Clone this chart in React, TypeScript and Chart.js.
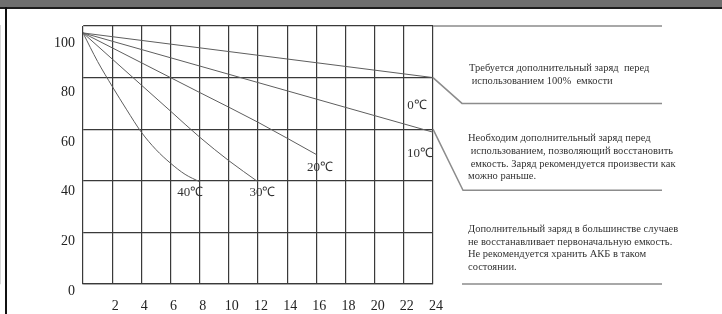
import React, { useEffect, useRef } from "react";
import { Chart, registerables } from "chart.js";
Chart.register(...registerables);

// Hours of storage (x) and remaining capacity % (y) for each temperature
const hours40 = [0, 1, 2, 3, 4, 5, 6, 7, 8];
const capacity40 = [100, 88.5, 78.5, 69, 60, 53, 47.5, 43, 40];
const hours30 = [0, 2, 4, 6, 8, 10, 12];
const capacity30 = [100, 89.5, 79, 68.5, 58, 48.5, 40];
const hours20 = [0, 4, 8, 12, 16];
const capacity20 = [100, 88, 76, 64, 51];
const hours10 = [0, 12, 24];
const capacity10 = [100, 80, 60];
const hours0 = [0, 12, 24];
const capacity0 = [100, 91, 82];

const tempLabels = ["40℃", "30℃", "20℃", "10℃", "0℃"];
const yTickValues = [0, 20, 40, 60, 80, 100];
const xTickValues = [2, 4, 6, 8, 10, 12, 14, 16, 18, 20, 22, 24];

const note1 = ["Требуется дополнительный заряд  перед", " использованием 100%  емкости"];
const note2 = [
  "Необходим дополнительный заряд перед",
  " использованием, позволяющий восстановить",
  " емкость. Заряд рекомендуется произвести как",
  "можно раньше.",
];
const note3 = [
  "Дополнительный заряд в большинстве случаев",
  "не восстанавливает первоначальную емкость.",
  "Не рекомендуется хранить АКБ в таком",
  "состоянии.",
];

const SERIF = '"Liberation Serif", "Times New Roman", serif';

const toPoints = (xs: number[], ys: number[]) => xs.map((x, i) => ({ x, y: ys[i] }));

const annotationPlugin = {
  id: "annotations",
  afterDraw(chart: any) {
    const { ctx, scales } = chart;
    const xs = scales.x;
    const ys = scales.y;
    const px = (v: number) => xs.getPixelForValue(v);
    const py = (v: number) => ys.getPixelForValue(v);

    // temperature labels placed near curve ends
    const labelAnchors = [
      [7.35, 35.3],
      [12.3, 35.3],
      [16.25, 45.3],
      [23.1, 50.4],
      [22.9, 69.0],
    ];
    ctx.save();
    ctx.fillStyle = "#333";
    ctx.font = `13px ${SERIF}`;
    ctx.textAlign = "center";
    ctx.textBaseline = "middle";
    tempLabels.forEach((t, i) => {
      const [ax, ay] = labelAnchors[i];
      ctx.fillText(t, px(ax), py(ay));
    });

    // zone separators on the right
    const xr = px(24);
    const bend = xr + 29;
    const end = xr + 229;
    ctx.strokeStyle = "#8c8c8c";
    ctx.lineWidth = 1.5;
    ctx.beginPath();
    ctx.moveTo(xr, py(100));
    ctx.lineTo(end, py(100));
    ctx.moveTo(xr, py(80));
    ctx.lineTo(bend, py(70));
    ctx.lineTo(end, py(70));
    ctx.moveTo(xr, py(60));
    ctx.lineTo(bend + 1, py(36.3));
    ctx.lineTo(end, py(36.3));
    ctx.moveTo(bend, py(0));
    ctx.lineTo(end, py(0));
    ctx.stroke();

    ctx.fillStyle = "#333";
    ctx.font = `10.5px ${SERIF}`;
    ctx.textAlign = "left";
    const tx = xr + 36;
    const lh = 12.8;
    note1.forEach((l, i) => ctx.fillText(l, tx, py(83.7) + i * lh));
    note2.forEach((l, i) => ctx.fillText(l, tx - 1, py(56.5) + i * lh));
    note3.forEach((l, i) => ctx.fillText(l, tx - 1, py(21.3) + i * lh));
    ctx.restore();
  },
};

export default function App() {
  const ref = useRef<HTMLCanvasElement>(null);
  useEffect(() => {
    document.body.style.margin = "0";
    const lineStyle = {
      borderColor: "#5e5e5e",
      borderWidth: 1,
      pointRadius: 0,
      fill: false,
      cubicInterpolationMode: "monotone" as const,
    };
    const chart = new Chart(ref.current!, {
      type: "line",
      data: {
        datasets: [
          { label: tempLabels[0], data: toPoints(hours40, capacity40), ...lineStyle },
          { label: tempLabels[1], data: toPoints(hours30, capacity30), ...lineStyle },
          { label: tempLabels[2], data: toPoints(hours20, capacity20), ...lineStyle },
          { label: tempLabels[3], data: toPoints(hours10, capacity10), ...lineStyle },
          { label: tempLabels[4], data: toPoints(hours0, capacity0), ...lineStyle },
        ],
      },
      options: {
        responsive: false,
        animation: false,
        devicePixelRatio: 1,
        layout: { padding: { left: 0, top: 26, right: 289, bottom: 0 } },
        plugins: { legend: { display: false }, tooltip: { enabled: false } },
        scales: {
          x: {
            type: "linear",
            min: 0,
            max: 24,
            afterBuildTicks: (s: any) => {
              s.ticks = [0, ...xTickValues].map((v) => ({ value: v }));
            },
            afterFit: (s: any) => {
              s.height = 30;
            },
            grid: { color: "#3a3a3a", lineWidth: 1.2, drawTicks: false },
            border: { color: "#3a3a3a", width: 1.2 },
            ticks: {
              color: "#222",
              font: { family: SERIF, size: 14 },
              padding: 14,
              labelOffset: 3,
              callback: (v: any) => (xTickValues.includes(Number(v)) ? String(v) : ""),
            },
          },
          // label-only axis: the scan's tick labels sit on a slightly tighter spacing than the grid
          yLabels: {
            type: "linear",
            position: "left",
            min: -1.2,
            max: 102.8,
            afterBuildTicks: (s: any) => {
              s.ticks = yTickValues.map((v) => ({ value: v }));
            },
            afterFit: (s: any) => {
              s.width = 83;
            },
            grid: { display: false, drawTicks: false },
            border: { display: false },
            ticks: {
              color: "#222",
              font: { family: SERIF, size: 14 },
              padding: 8,
              labelOffset: 10,
            },
          },
          y: {
            min: 0,
            max: 100,
            position: "left",
            afterBuildTicks: (s: any) => {
              s.ticks = yTickValues.map((v) => ({ value: v }));
            },
            afterFit: (s: any) => {
              s.width = 0;
            },
            grid: { color: "#3a3a3a", lineWidth: 1.2, drawTicks: false },
            border: { color: "#3a3a3a", width: 1.2 },
            ticks: { display: false },
          },
        },
      },
      plugins: [annotationPlugin],
    });
    return () => chart.destroy();
  }, []);

  return (
    <div style={{ position: "absolute", left: 0, top: 0, width: 722, height: 314, background: "#fff", overflow: "hidden" }}>
      <canvas ref={ref} width={722} height={314} style={{ position: "absolute", left: 0, top: 0 }} />
      <div style={{ position: "absolute", left: 0, top: 0, width: 722, height: 7, background: "#6f6f6f" }} />
      <div style={{ position: "absolute", left: 0, top: 7, width: 722, height: 2, background: "#1e1e1e" }} />
      <div style={{ position: "absolute", left: 5, top: 7, width: 2, height: 307, background: "#111" }} />
    </div>
  );
}
